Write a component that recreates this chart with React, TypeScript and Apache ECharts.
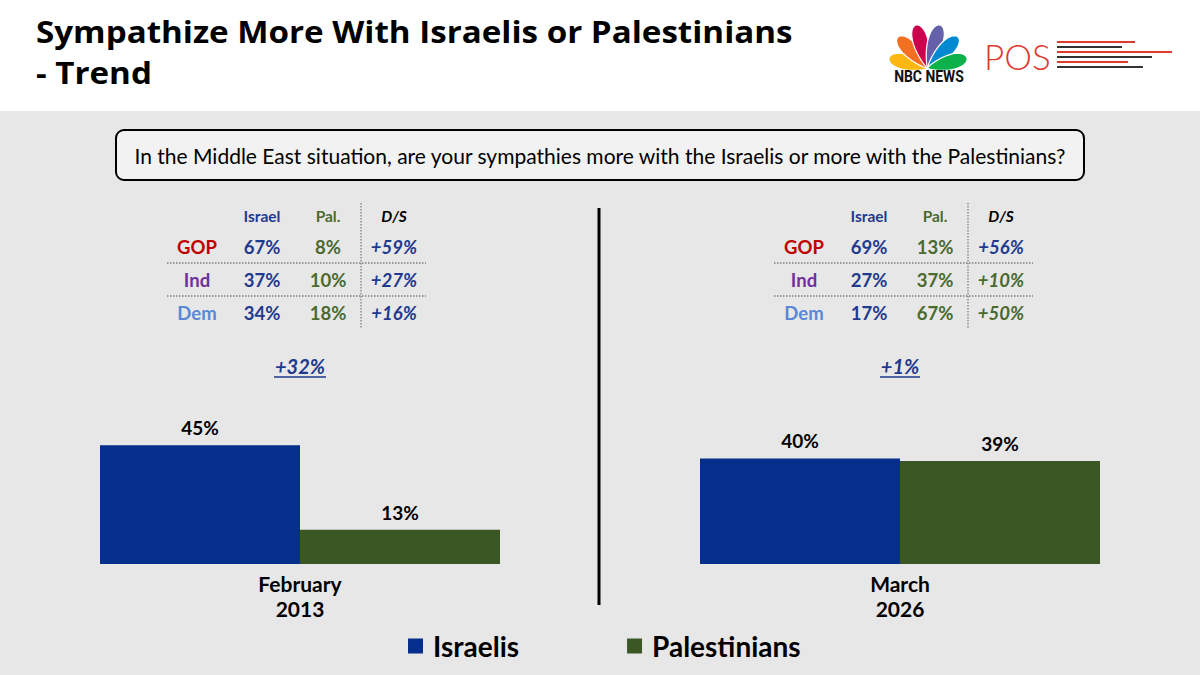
import React, { useEffect, useRef } from "react";
import * as echarts from "echarts";

const periods = ["February\n2013", "March\n2026"];
const israelis = [45, 40];
const palestinians = [13, 39];
const overallDiff = ["+32%", "+1%"];
const parties = ["GOP", "Ind", "Dem"];
const tableHeaders = ["Israel", "Pal.", "D/S"];
const israelByParty = [
  [67, 37, 34],
  [69, 27, 17],
];
const palByParty = [
  [8, 10, 18],
  [13, 37, 67],
];
const dsByParty = [
  ["+59%", "+27%", "+16%"],
  ["+56%", "+10%", "+50%"],
];
const titleLines = ["Sympathize More With Israelis or Palestinians", "- Trend"];
const question =
  "In the Middle East situation, are your sympathies more with the Israelis or more with the Palestinians?";

const FONT = "Lato, 'Open Sans', sans-serif";
const TITLE_FONT = "'Open Sans', Lato, sans-serif";
const BLUE_BAR = "#062f8c";
const GREEN_BAR = "#3b5724";
const NAVY = "#1f3a8f";
const GREEN_TXT = "#4b6a2e";
const PARTY_COLORS = ["#c00000", "#7030a0", "#5a88d8"];

function feather(bx: number, by: number, tx: number, ty: number, w: number, color: string) {
  const dx = tx - bx;
  const dy = ty - by;
  const L = Math.sqrt(dx * dx + dy * dy);
  const ux = dx / L;
  const uy = dy / L;
  const px = -uy;
  const py = ux;
  const cx = bx + ux * (L / 2);
  const cy = by + uy * (L / 2);
  const pts: number[][] = [];
  for (let i = 0; i < 48; i++) {
    const t = (i / 48) * Math.PI * 2;
    const f = 0.3 + 0.7 * Math.pow((1 + Math.cos(t)) / 2, 0.6);
    const u = (L / 2) * Math.cos(t);
    const v = w * Math.sin(t) * f;
    pts.push([cx + ux * u + px * v, cy + uy * u + py * v]);
  }
  return {
    type: "polygon",
    shape: { points: pts },
    style: { fill: color, stroke: "#ffffff", lineWidth: 1.2 },
  };
}

function buildGraphics() {
  const g: any[] = [];
  g.push({ type: "rect", shape: { x: 0, y: 0, width: 1200, height: 111 }, style: { fill: "#ffffff" }, z: -1 });
  titleLines.forEach((t, i) => {
    g.push({
      type: "text",
      x: 36,
      y: 31 + i * 41,
      scaleX: 1.105,
      originX: 0,
      originY: 0,
      style: {
        text: t,
        font: `bold 30px ${TITLE_FONT}`,
        fill: "#000000",
        textVerticalAlign: "middle",
      },
    });
  });
  // question box
  g.push({
    type: "rect",
    shape: { x: 116, y: 130, width: 968, height: 50, r: 8 },
    style: { fill: "#f2f2f2", stroke: "#000000", lineWidth: 2 },
  });
  g.push({
    type: "text",
    x: 600,
    y: 155,
    style: { text: question, font: `21px ${FONT}`, fill: "#000000", textAlign: "center", textVerticalAlign: "middle" },
  });
  // divider
  g.push({ type: "line", shape: { x1: 599, y1: 208, x2: 599, y2: 605 }, style: { stroke: "#000000", lineWidth: 3 } });

  // tables
  const colX = [197, 262, 328, 394];
  const rowY = [247, 280, 313];
  for (let p = 0; p < 2; p++) {
    const off = p * 607;
    const hdrColors = [NAVY, GREEN_TXT, "#000000"];
    tableHeaders.forEach((h, j) => {
      g.push({
        type: "text",
        x: colX[j + 1] + off,
        y: 216,
        style: {
          text: h,
          font: `${j === 2 ? "italic " : ""}bold 15.5px ${FONT}`,
          fill: hdrColors[j],
          textAlign: "center",
          textVerticalAlign: "middle",
        },
      });
    });
    parties.forEach((party, r) => {
      const isr = israelByParty[p][r];
      const pal = palByParty[p][r];
      const cells = [
        { t: party, c: PARTY_COLORS[r], it: false },
        { t: `${isr}%`, c: NAVY, it: false },
        { t: `${pal}%`, c: GREEN_TXT, it: false },
        { t: dsByParty[p][r], c: isr > pal ? NAVY : GREEN_TXT, it: true },
      ];
      cells.forEach((cell, j) => {
        g.push({
          type: "text",
          x: colX[j] + off,
          y: rowY[r],
          style: {
            text: cell.t,
            font: `${cell.it ? "italic " : ""}bold 18.5px ${FONT}`,
            fill: cell.c,
            textAlign: "center",
            textVerticalAlign: "middle",
          },
        });
      });
    });
    [263, 296].forEach((yy) => {
      g.push({
        type: "line",
        shape: { x1: 167 + off, y1: yy, x2: 426 + off, y2: yy },
        style: { stroke: "#7f7f7f", lineWidth: 1.3, lineDash: [1.5, 1.5] },
      });
    });
    g.push({
      type: "line",
      shape: { x1: 361 + off, y1: 203, x2: 361 + off, y2: 328 },
      style: { stroke: "#7f7f7f", lineWidth: 1.3, lineDash: [1.5, 1.5] },
    });
    // overall diff
    const cx = 300 + p * 600;
    g.push({
      type: "text",
      x: cx,
      y: 366,
      style: {
        text: overallDiff[p],
        font: `italic bold 20px ${FONT}`,
        fill: NAVY,
        textAlign: "center",
        textVerticalAlign: "middle",
      },
    });
    const halfW = p === 0 ? 26 : 20;
    g.push({
      type: "line",
      shape: { x1: cx - halfW, y1: 377, x2: cx + halfW, y2: 377 },
      style: { stroke: NAVY, lineWidth: 1.5 },
    });
  }

  // NBC peacock
  const bx = 928;
  const by = 68;
  const tips: [number, number, string][] = [
    [889, 58, "#fcb711"],
    [898, 37, "#f37021"],
    [916, 25, "#cc004c"],
    [940, 25, "#6460aa"],
    [958, 37, "#0089d0"],
    [967, 58, "#0db14b"],
  ];
  tips.forEach(([tx, ty, c]) => g.push(feather(bx, by, tx, ty, 9.5, c)));
  g.push({
    type: "text",
    x: 929,
    y: 77,
    scaleX: 0.82,
    originX: 0,
    originY: 0,
    style: { text: "NBC NEWS", font: `bold 17px Roboto, sans-serif`, fill: "#111111", textAlign: "center", textVerticalAlign: "middle" },
  });
  // POS logo
  g.push({
    type: "text",
    x: 984,
    y: 56,
    style: { text: "POS", font: `300 35px Lato, sans-serif`, fill: "#e03a2f", textVerticalAlign: "middle" },
  });
  const posLines: [number, number, string][] = [
    [42, 1135, "#e03a2f"],
    [47, 1122, "#333333"],
    [52, 1172, "#e03a2f"],
    [57, 1152, "#333333"],
    [62, 1128, "#e03a2f"],
    [67, 1143, "#333333"],
  ];
  posLines.forEach(([yy, x2, c]) =>
    g.push({ type: "line", shape: { x1: 1057, y1: yy, x2, y2: yy }, style: { stroke: c, lineWidth: 2 } })
  );
  return g;
}

export default function App() {
  const ref = useRef<HTMLDivElement>(null);
  useEffect(() => {
    document.body.style.margin = "0";
    if (!ref.current) return;
    const chart = echarts.init(ref.current, undefined, { renderer: "svg" });
    const labelCfg = {
      show: true,
      position: "top",
      distance: 8,
      formatter: "{c}%",
      fontFamily: FONT,
      fontWeight: "bold",
      fontSize: 19,
      color: "#000000",
    };
    const grids = [0, 1].map((i) => ({ left: 100 + i * 600, width: 400, top: 300, bottom: 111 }));
    const xAxes = [0, 1].map((i) => ({
      type: "category",
      gridIndex: i,
      data: [periods[i]],
      axisLine: { show: false },
      axisTick: { show: false },
      axisLabel: {
        margin: 7,
        fontFamily: FONT,
        fontWeight: "bold",
        fontSize: 21,
        lineHeight: 25,
        color: "#000000",
      },
    }));
    const yAxes = [0, 1].map((i) => ({
      type: "value",
      gridIndex: i,
      min: 0,
      max: 100,
      show: false,
      splitLine: { show: false },
    }));
    const series: any[] = [];
    [0, 1].forEach((i) => {
      series.push({
        name: "Israelis",
        type: "bar",
        xAxisIndex: i,
        yAxisIndex: i,
        data: [israelis[i]],
        barGap: "0%",
        barCategoryGap: "0%",
        itemStyle: { color: BLUE_BAR },
        label: labelCfg,
      });
      series.push({
        name: "Palestinians",
        type: "bar",
        xAxisIndex: i,
        yAxisIndex: i,
        data: [palestinians[i]],
        barGap: "0%",
        barCategoryGap: "0%",
        itemStyle: { color: GREEN_BAR },
        label: labelCfg,
      });
    });
    chart.setOption({
      animation: false,
      backgroundColor: "#e7e7e7",
      grid: grids,
      xAxis: xAxes,
      yAxis: yAxes,
      legend: {
        data: ["Israelis", "Palestinians"],
        left: 403,
        top: 627,
        icon: "rect",
        itemWidth: 15,
        itemHeight: 15,
        itemGap: 108,
        textStyle: { fontFamily: FONT, fontWeight: "bold", fontSize: 28, color: "#000000", padding: [0, 0, 0, 5] },
      },
      series,
      graphic: buildGraphics(),
    });
    return () => chart.dispose();
  }, []);
  return <div ref={ref} style={{ width: 1200, height: 675 }} />;
}
